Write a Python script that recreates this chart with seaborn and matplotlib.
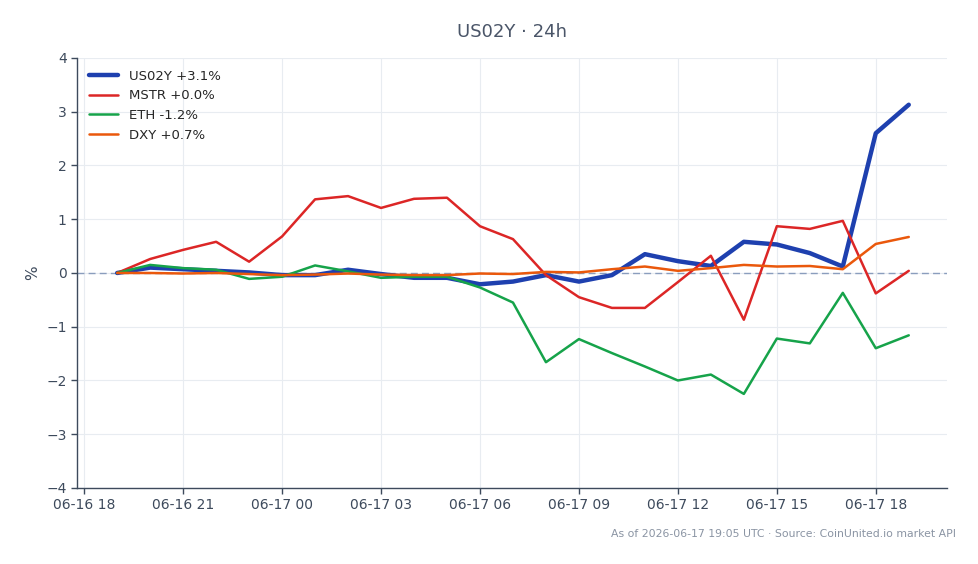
import pandas as pd
import seaborn as sns
import matplotlib.pyplot as plt
import matplotlib.dates as mdates

# hourly % change over the last 24h
times = pd.date_range('2026-06-16 19:00', '2026-06-17 19:00', freq='h')

us02y = [0.00, 0.10, 0.07, 0.04, 0.01, -0.04, -0.04, 0.06, -0.02, -0.09, -0.09, -0.21,
         -0.16, -0.04, -0.16, -0.04, 0.35, 0.22, 0.13, 0.58, 0.53, 0.37, 0.12, 2.60, 3.13]
mstr = [0.00, 0.26, 0.43, 0.58, 0.21, 0.68, 1.37, 1.43, 1.21, 1.38, 1.40, 0.87,
        0.63, -0.04, -0.45, -0.65, -0.65, -0.17, 0.32, -0.87, 0.87, 0.82, 0.97, -0.38, 0.04]
eth = [0.00, 0.15, 0.09, 0.06, -0.11, -0.07, 0.14, 0.03, -0.09, -0.07, -0.07, -0.27,
       -0.55, -1.66, -1.23, -1.49, -1.74, -2.00, -1.89, -2.25, -1.22, -1.31, -0.37, -1.40, -1.16]
dxy = [0.00, 0.00, -0.01, 0.00, -0.02, -0.04, -0.03, -0.01, -0.03, -0.04, -0.04, -0.01,
       -0.02, 0.02, 0.01, 0.07, 0.12, 0.04, 0.09, 0.15, 0.12, 0.13, 0.07, 0.54, 0.67]

labels = ['US02Y +3.1%', 'MSTR +0.0%', 'ETH -1.2%', 'DXY +0.7%']
colors = ['#1e40af', '#dc2626', '#16a34a', '#ea580c']
widths = [3.2, 1.8, 1.8, 1.8]

sns.set_style('white')
plt.rcParams['font.family'] = ['DejaVu Sans']

fig = plt.figure(figsize=(9.79, 5.64), dpi=100)
ax = fig.add_axes([0.0787, 0.1348, 0.8883, 0.7624])

for vals, label, color, lw in zip([us02y, mstr, eth, dxy], labels, colors, widths):
    df = pd.DataFrame({'time': times, 'pct': vals})
    sns.lineplot(data=df, x='time', y='pct', ax=ax, color=color, linewidth=lw, label=label)

ax.axhline(0, color='#8a9dbd', linewidth=1, linestyle=(0, (5, 3)), zorder=1)

ax.set_ylim(-4, 4)
ax.set_xlim(pd.Timestamp('2026-06-16 17:47'), pd.Timestamp('2026-06-17 20:09'))
ax.xaxis.set_major_locator(mdates.HourLocator(byhour=range(0, 24, 3)))
ax.xaxis.set_major_formatter(mdates.DateFormatter('%m-%d %H'))

ax.set_xlabel('')
ax.set_ylabel('%', color='#3d4a5c', fontsize=11)
ax.set_title('US02Y · 24h', color='#4a5568', fontsize=13, pad=15)

ax.grid(True, color='#e8ecf1', linewidth=0.8)
for side in ['top', 'right']:
    ax.spines[side].set_visible(False)
for side in ['left', 'bottom']:
    ax.spines[side].set_color('#3d4a5c')
    ax.spines[side].set_linewidth(1)
ax.tick_params(axis='both', colors='#3d4a5c', labelsize=10, length=4, width=1,
               bottom=True, left=True)

ax.legend(loc='upper left', frameon=False, fontsize=9.5, handlelength=2.2)

fig.text(0.976, 0.045, 'As of 2026-06-17 19:05 UTC · Source: CoinUnited.io market API',
         ha='right', va='bottom', fontsize=7.8, color='#8a94a3')

fig.savefig('out.png', dpi=100)
